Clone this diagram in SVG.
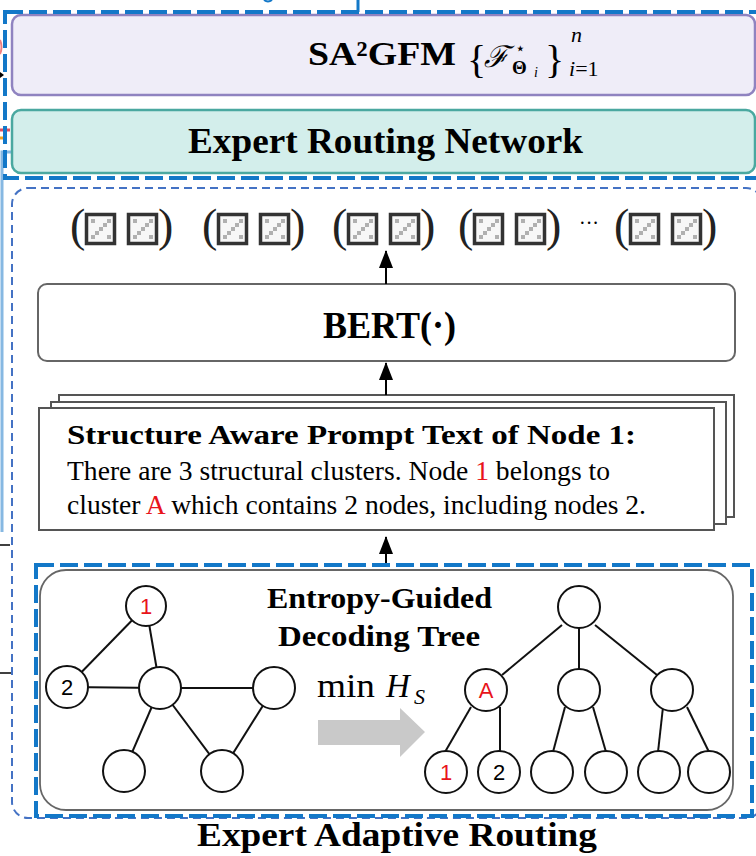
<svg xmlns="http://www.w3.org/2000/svg" xmlns:xlink="http://www.w3.org/1999/xlink" width="756" height="856" viewBox="0 0 756 856">
<style>
.serifb{font-family:"Liberation Serif","Times New Roman",serif;font-weight:bold;fill:#000}
.serif{font-family:"Liberation Serif","Times New Roman",serif;fill:#000}
.sans{font-family:"Liberation Sans",Arial,sans-serif;font-size:22px;text-anchor:middle}
.red{fill:#e8141b}
.node{fill:#fff;stroke:#111;stroke-width:2}
.edge{stroke:#111;stroke-width:2;fill:none}
.paren{font-family:"Liberation Serif","Times New Roman",serif;font-size:46px;fill:#222}
.stack{fill:#fff;stroke:#555;stroke-width:2}
</style>
<defs>
<marker id="ah" markerUnits="userSpaceOnUse" markerWidth="18" markerHeight="14" refX="17" refY="7" orient="auto" viewBox="0 0 18 14">
<path d="M0,0 L18,7 L0,14 Z" fill="#000"/>
</marker>
<g id="tok">
<rect x="1.5" y="1.5" width="28" height="29" fill="#f7f7f7" stroke="#333" stroke-width="3.5"/>
<g fill="#b0b0b0">
<rect x="6" y="22" width="4" height="4"/>
<rect x="10" y="18" width="4" height="4"/>
<rect x="14" y="14" width="4" height="4"/>
<rect x="18" y="10" width="4" height="4"/>
<rect x="22" y="6" width="4" height="4"/>
<rect x="6" y="6" width="4" height="4"/>
<rect x="22" y="22" width="4" height="4"/>
</g>
</g>
</defs>

<!-- external fragments at the edges -->
<g id="fragments">
<line x1="358" y1="0" x2="358" y2="12" stroke="#1378c8" stroke-width="3"/>
<path d="M264,0 Q268,3 272,0" stroke="#1378c8" stroke-width="2" fill="none"/>
<path d="M0,40 Q3,47 0,54" stroke="#f08080" stroke-width="2" fill="none"/>
<path d="M0,72 L4,75 L0,78 Z" fill="#000"/>
<line x1="0" y1="130" x2="10" y2="130" stroke="#e05060" stroke-width="3"/>
<line x1="0" y1="138" x2="3" y2="138" stroke="#f0a020" stroke-width="3"/>
<polyline points="12,152 2,152 2,532" stroke="#86b8e2" stroke-width="3" fill="none"/>
<line x1="0" y1="545" x2="10" y2="545" stroke="#000" stroke-width="1.5"/>
<line x1="0" y1="673" x2="12" y2="673" stroke="#000" stroke-width="1.5"/>
</g>

<!-- top section -->
<g id="sa2gfm">
<rect x="12" y="15" width="743" height="80" rx="9" fill="#efedf8" stroke="#8f83c0" stroke-width="2.5"/>
<text class="serifb" x="308" y="65" font-size="33" textLength="148" lengthAdjust="spacingAndGlyphs">SA²GFM</text>
<text class="serif" x="467" y="73" font-size="40">{</text>
<text x="484" y="67" font-family="DejaVu Serif,serif" font-style="italic" font-size="30">ℱ</text>
<text x="515" y="54" font-family="DejaVu Sans,sans-serif" font-size="17">⋆</text>
<text class="serifb" x="512" y="74" font-size="19">Θ</text>
<text class="serif" x="534" y="77" font-size="14" font-style="italic">i</text>
<text class="serif" x="545" y="73" font-size="40">}</text>
<text class="serif" x="571" y="42" font-size="22" font-style="italic">n</text>
<text class="serif" x="569" y="76" font-size="22"><tspan font-style="italic">i</tspan>=1</text>
</g>
<g id="routing-network">
<rect x="12" y="110" width="743" height="63" rx="9" fill="#d3eeeb" stroke="#4aa8a0" stroke-width="2.5"/>
<text class="serifb" x="188" y="153" font-size="36" textLength="395" lengthAdjust="spacingAndGlyphs">Expert Routing Network</text>
</g>
<rect x="5" y="12" width="800" height="166" fill="none" stroke="#1378c8" stroke-width="4" stroke-dasharray="18 6"/>

<!-- expert adaptive routing panel -->
<rect id="panel" x="12" y="188" width="750" height="630" rx="16" fill="none" stroke="#4472c4" stroke-width="2" stroke-dasharray="8 5"/>

<g id="tokens">
<g transform="translate(72,0)">
<text class="paren" x="-2" y="241">(</text><use href="#tok" x="13" y="213"/><use href="#tok" x="55" y="213"/><text class="paren" x="86" y="241">)</text>
</g>
<g transform="translate(204,0)">
<text class="paren" x="-2" y="241">(</text><use href="#tok" x="13" y="213"/><use href="#tok" x="55" y="213"/><text class="paren" x="86" y="241">)</text>
</g>
<g transform="translate(334,0)">
<text class="paren" x="-2" y="241">(</text><use href="#tok" x="13" y="213"/><use href="#tok" x="55" y="213"/><text class="paren" x="86" y="241">)</text>
</g>
<g transform="translate(460,0)">
<text class="paren" x="-2" y="241">(</text><use href="#tok" x="13" y="213"/><use href="#tok" x="55" y="213"/><text class="paren" x="86" y="241">)</text>
</g>
<text class="serif" x="579" y="230" font-size="20">···</text>
<g transform="translate(616,0)">
<text class="paren" x="-2" y="241">(</text><use href="#tok" x="13" y="213"/><use href="#tok" x="55" y="213"/><text class="paren" x="86" y="241">)</text>
</g>
</g>

<g id="bert">
<rect x="38" y="284" width="697" height="77" rx="9" fill="#fff" stroke="#666" stroke-width="2"/>
<text class="serifb" x="323" y="338" font-size="37" textLength="133" lengthAdjust="spacingAndGlyphs">BERT(·)</text>
</g>

<g id="prompt">
<rect class="stack" x="59" y="395" width="675" height="122"/>
<rect class="stack" x="51" y="402" width="675" height="122"/>
<rect class="stack" x="39" y="408" width="675" height="122"/>
<text class="serifb" x="67" y="444" font-size="28" textLength="569" lengthAdjust="spacingAndGlyphs">Structure Aware Prompt Text of Node 1:</text>
<text class="serif" x="67" y="480" font-size="27" textLength="543" lengthAdjust="spacingAndGlyphs">There are 3 structural clusters. Node <tspan class="red">1</tspan> belongs to</text>
<text class="serif" x="67" y="514" font-size="27" textLength="579" lengthAdjust="spacingAndGlyphs">cluster <tspan class="red">A</tspan> which contains 2 nodes, including nodes 2.</text>
</g>

<g id="connectors">
<line x1="386" y1="284" x2="386" y2="251" stroke="#000" stroke-width="2" marker-end="url(#ah)"/>
<line x1="386" y1="395" x2="386" y2="363" stroke="#000" stroke-width="2" marker-end="url(#ah)"/>
<line x1="386" y1="565" x2="386" y2="537" stroke="#000" stroke-width="2" marker-end="url(#ah)"/>
</g>

<!-- decoding tree section -->
<g id="decoding">
<rect x="40" y="570" width="693" height="240" rx="26" fill="#fff" stroke="#666" stroke-width="1.8"/>
<text class="serifb" x="267" y="608" font-size="29" textLength="225" lengthAdjust="spacingAndGlyphs">Entropy-Guided</text>
<text class="serifb" x="278" y="646" font-size="29" textLength="202" lengthAdjust="spacingAndGlyphs">Decoding Tree</text>
<text class="serif" x="317" y="697" font-size="33" textLength="58" lengthAdjust="spacingAndGlyphs">min</text>
<text class="serif" x="386" y="697" font-size="33" font-style="italic">H</text>
<text class="serif" x="414" y="704" font-size="22" font-style="italic">S</text>
<polygon id="min-arrow" points="318,720 400,720 400,708 425,732 400,757 400,745 318,745" fill="#c9c9c9"/>
</g>

<g id="graph-edges">
<line class="edge" x1="146" y1="606" x2="67" y2="687"/>
<line class="edge" x1="146" y1="606" x2="160" y2="688"/>
<line class="edge" x1="67" y1="687" x2="160" y2="688"/>
<line class="edge" x1="160" y1="688" x2="274" y2="688"/>
<line class="edge" x1="160" y1="688" x2="124" y2="771"/>
<line class="edge" x1="160" y1="688" x2="222" y2="771"/>
<line class="edge" x1="274" y1="688" x2="222" y2="771"/>
</g>
<g id="g-n1"><circle class="node" cx="146" cy="606" r="20"/><text class="sans red" x="146" y="614">1</text></g>
<g id="g-n2"><circle class="node" cx="67" cy="687" r="21"/><text class="sans" x="67" y="695">2</text></g>
<g id="g-nc"><circle class="node" cx="160" cy="688" r="21"/></g>
<g id="g-nr"><circle class="node" cx="274" cy="688" r="21"/></g>
<g id="g-nbl"><circle class="node" cx="124" cy="771" r="21"/></g>
<g id="g-nbm"><circle class="node" cx="222" cy="771" r="21"/></g>

<g id="tree-edges">
<line class="edge" x1="502" y1="675" x2="562" y2="625"/>
<line class="edge" x1="579" y1="628" x2="579" y2="669"/>
<line class="edge" x1="595" y1="625" x2="657" y2="675"/>
<line class="edge" x1="471" y1="707" x2="445" y2="752"/>
<line class="edge" x1="500" y1="707" x2="500" y2="752"/>
<line class="edge" x1="565" y1="707" x2="553" y2="752"/>
<line class="edge" x1="593" y1="707" x2="606" y2="752"/>
<line class="edge" x1="663" y1="707" x2="658" y2="752"/>
<line class="edge" x1="687" y1="707" x2="709" y2="752"/>
</g>
<g id="t-root"><circle class="node" cx="579" cy="607" r="21"/></g>
<g id="t-A"><circle class="node" cx="486" cy="690" r="21"/><text class="sans red" x="486" y="698">A</text></g>
<g id="t-mid"><circle class="node" cx="579" cy="690" r="21"/></g>
<g id="t-right"><circle class="node" cx="672" cy="690" r="21"/></g>
<g id="t-l1"><circle class="node" cx="446" cy="772" r="21"/><text class="sans red" x="446" y="780">1</text></g>
<g id="t-l2"><circle class="node" cx="499" cy="772" r="21"/><text class="sans" x="499" y="780">2</text></g>
<g id="t-l3"><circle class="node" cx="552" cy="772" r="21"/></g>
<g id="t-l4"><circle class="node" cx="606" cy="772" r="21"/></g>
<g id="t-l5"><circle class="node" cx="659" cy="772" r="21"/></g>
<g id="t-l6"><circle class="node" cx="709" cy="772" r="21"/></g>

<rect x="36" y="565" width="716" height="251" fill="none" stroke="#1378c8" stroke-width="4" stroke-dasharray="18 6"/>

<text class="serifb" x="197" y="846" font-size="33" textLength="400" lengthAdjust="spacingAndGlyphs">Expert Adaptive Routing</text>
</svg>
